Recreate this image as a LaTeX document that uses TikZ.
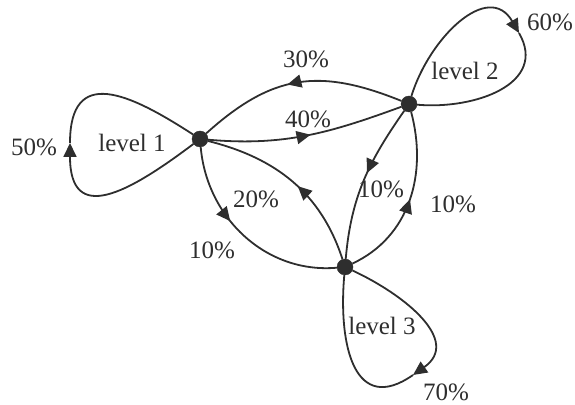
\documentclass[tikz,border=0pt]{standalone}
\usepackage{fontspec}
\setmainfont{Liberation Serif}
\usepackage{tikz}
\usetikzlibrary{arrows.meta,decorations.markings}
\definecolor{ink}{HTML}{2E2E2E}
\tikzset{
  dot/.style={circle, draw=ink, fill=ink, inner sep=0pt, minimum size=16pt},
  lab/.style={anchor=base, text=ink, font=\fontsize{25}{30}\selectfont, inner sep=0pt},
  pct/.style={anchor=base, text=ink, font=\fontsize{25}{30}\selectfont, inner sep=0pt},
  fl/.style={draw=ink, line width=1.8pt},
  tip/.style={-{Triangle[length=14pt,width=13pt]}},
  mid/.style={postaction={decorate}, decoration={markings,
    mark=at position #1 with {\arrow{Triangle[length=14pt,width=13pt]}}}},
}
\begin{document}
\begin{tikzpicture}[x=1pt, y=1pt]
\useasboundingbox (0,0) rectangle (575,404);
% states
\node[dot] (n1) at (200,265) {};
\node[dot] (n2) at (409,300) {};
\node[dot] (n3) at (345,137) {};
\node[lab] (t1) at (132,252) {level 1};
\node[lab] (t2) at (465,324) {level 2};
\node[lab] (t3) at (382,69) {level 3};
% self loops
\coordinate (l1) at (70,261);
\coordinate (l2) at (519,371);
\coordinate (l3) at (413,29);
\draw[fl, tip] (n1) to[out=-143, in=-90, looseness=1.7] (l1);
\draw[fl] (l1) to[out=90, in=147, looseness=1.6] (n1);
\draw[fl, tip] (n2) to[out=73, in=120, looseness=1.25] (l2);
\draw[fl] (l2) to[out=-60, in=-5, looseness=1.2] (n2);
\draw[fl, tip] (n3) to[out=-25, in=35, looseness=1.25] (l3);
\draw[fl] (l3) to[out=-145, in=-95, looseness=1.5] (n3);
% transitions
\draw[fl, mid=0.55] (n2) to[out=158, in=42, looseness=1.15] (n1);
\draw[fl, mid=0.52] (n1) to[out=-5, in=200] (n2);
\draw[fl, mid=0.45] (n2) to[out=-125, in=85] (n3);
\draw[fl, mid=0.5] (n3) to[out=25, in=-75] (n2);
\draw[fl, mid=0.46] (n3) to[out=108, in=-14] (n1);
\draw[fl, mid=0.4] (n1) to[out=-85, in=185] (n3);
% rates
\node[pct] (p50) at (34,248) {50\%};
\node[pct] (p60) at (550,373) {60\%};
\node[pct] (p30) at (306,336) {30\%};
\node[pct] (p40) at (308,276) {40\%};
\node[pct] (p23) at (381,206) {10\%};
\node[pct] (p32) at (453,191) {10\%};
\node[pct] (p31) at (256,196) {20\%};
\node[pct] (p13) at (212,145) {10\%};
\node[pct] (p70) at (446,4) {70\%};
\end{tikzpicture}
\end{document}
